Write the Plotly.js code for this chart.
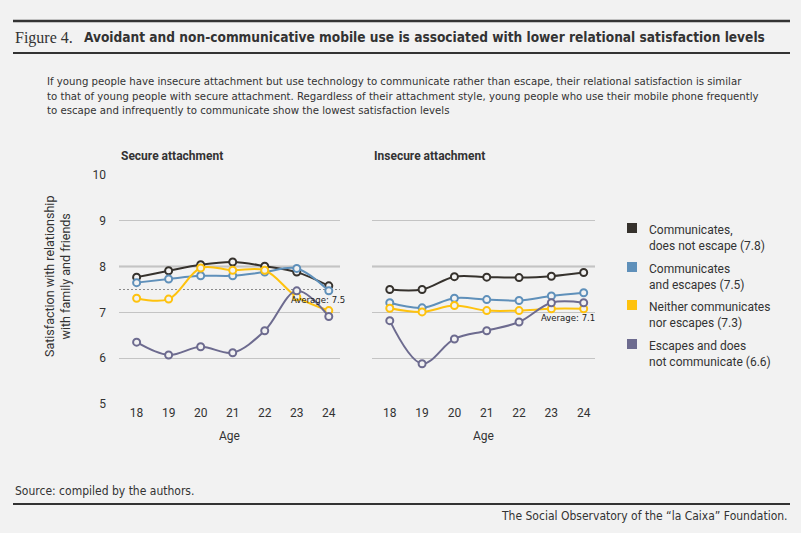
<!DOCTYPE html>
<html>
<head>
<meta charset="utf-8">
<script src="https://cdn.plot.ly/plotly-3.0.1.min.js"></script>
<style>
  html, body { margin: 0; padding: 0; background: #f2f2f2; }
  #chart { width: 801px; height: 533px; }
</style>
</head>
<body>
<div id="chart"></div>
<script>
const ages = [18, 19, 20, 21, 22, 23, 24];

const seriesNames = [
  'Communicates,<br>does not escape (7.8)',
  'Communicates<br>and escapes (7.5)',
  'Neither communicates<br>nor escapes (7.3)',
  'Escapes and does<br>not communicate (6.6)'
];
const seriesColors = ['#36322d', '#5f90ba', '#fec20e', '#6d6b8f'];

// secure attachment panel
const secureComm = [7.77, 7.91, 8.04, 8.10, 8.01, 7.88, 7.58];
const secureBoth = [7.65, 7.73, 7.80, 7.80, 7.88, 7.96, 7.47];
const secureNeither = [7.31, 7.29, 7.97, 7.92, 7.92, 7.34, 7.04];
const secureEscape = [6.35, 6.07, 6.25, 6.12, 6.60, 7.47, 6.91];

// insecure attachment panel
const insecureComm = [7.50, 7.50, 7.78, 7.77, 7.76, 7.79, 7.87];
const insecureBoth = [7.21, 7.10, 7.31, 7.28, 7.26, 7.36, 7.43];
const insecureNeither = [7.09, 7.01, 7.15, 7.04, 7.04, 7.08, 7.08];
const insecureEscape = [6.82, 5.88, 6.42, 6.60, 6.79, 7.21, 7.21];

const panelTitles = ['Secure attachment', 'Insecure attachment'];
const averages = [7.5, 7.1];
const averageLabels = ['Average: 7.5', 'Average: 7.1'];

const bg = '#f2f2f2';
const ink = '#333333';
const narrow = '"DejaVu Sans Condensed", sans-serif';
const sans = 'Roboto, "Liberation Sans", sans-serif';

// plot area spans 119..595 px horizontally and 175..404 px vertically
const L = 119, R = 595, T = 175, B = 404;
const px = x => (x - L) / (R - L);
const py = y => (B - y) / (B - T);

function line(x, y, color, xa, ya) {
  return {
    type: 'scatter', mode: 'lines+markers',
    x, y, xaxis: xa, yaxis: ya, showlegend: false, hoverinfo: 'x+y',
    line: { color, width: 2, shape: 'spline', smoothing: 1 },
    marker: { symbol: 'circle', size: 7, color: bg, line: { color, width: 2 } },
    cliponaxis: false
  };
}

const panels = [
  [secureComm, secureBoth, secureNeither, secureEscape],
  [insecureComm, insecureBoth, insecureNeither, insecureEscape]
];

const data = [];
panels.forEach((set, p) => {
  const xa = p === 0 ? 'x' : 'x2';
  const ya = p === 0 ? 'y' : 'y2';
  set.forEach((vals, i) => data.push(line(ages, vals, seriesColors[i], xa, ya)));
});

const xAxisBase = {
  range: [17.45, 24.35], tickvals: ages, showgrid: false, zeroline: false,
  showline: false, ticks: '', tickfont: { family: sans, size: 12, color: ink },
  title: { text: 'Age', font: { family: sans, size: 12, color: ink }, standoff: 12 }
};
const yAxisBase = {
  range: [5, 10], dtick: 1, showgrid: true, gridcolor: '#c4c4c4', gridwidth: 1,
  zeroline: false, showline: false, ticks: ''
};

const shapes = [
  { type: 'line', xref: 'paper', yref: 'paper', x0: px(13), x1: px(790), y0: py(21), y1: py(21), line: { color: ink, width: 2.5 } },
  { type: 'line', xref: 'paper', yref: 'paper', x0: px(13), x1: px(790), y0: py(53), y1: py(53), line: { color: ink, width: 2 } },
  { type: 'line', xref: 'paper', yref: 'paper', x0: px(13), x1: px(790), y0: py(504), y1: py(504), line: { color: ink, width: 2 } },
  { type: 'line', xref: 'x domain', yref: 'y', x0: 0, x1: 1, y0: 8, y1: 8, line: { color: '#bdbdbd', width: 2 }, layer: 'below' },
  { type: 'line', xref: 'x2 domain', yref: 'y2', x0: 0, x1: 1, y0: 8, y1: 8, line: { color: '#bdbdbd', width: 2 }, layer: 'below' },
  // average of the secure panel (the insecure one sits under its yellow line)
  { type: 'line', xref: 'x domain', yref: 'y', x0: 0, x1: 1, y0: averages[0], y1: averages[0], layer: 'below',
    line: { color: '#8a8a8a', width: 1, dash: '2px,2px' } }
];

const legendY = [228, 267, 305, 344];
seriesColors.forEach((c, i) => {
  shapes.push({ type: 'rect', xref: 'paper', yref: 'paper', x0: px(627), x1: px(637),
    y0: py(legendY[i] - 5), y1: py(legendY[i] + 5), fillcolor: c, line: { width: 0 } });
});

const annotations = [
  { text: 'Figure 4.', x: px(13), y: py(38), xanchor: 'left', yanchor: 'middle',
    font: { family: '"Liberation Serif", serif', size: 16, color: ink } },
  { text: '<b>Avoidant and non-communicative mobile use is associated with lower relational satisfaction levels</b>',
    x: px(82), y: py(37), xanchor: 'left', yanchor: 'middle',
    font: { family: narrow, size: 13.6, color: ink } },
  { text: 'If young people have insecure attachment but use technology to communicate rather than escape, their relational satisfaction is similar<br>' +
      'to that of young people with secure attachment. Regardless of their attachment style, young people who use their mobile phone frequently<br>' +
      'to escape and infrequently to communicate show the lowest satisfaction levels',
    x: px(45), y: py(73), xanchor: 'left', yanchor: 'top', align: 'left',
    font: { family: narrow, size: 11.3, color: ink } },
  { text: 'Source: compiled by the authors.', x: px(13), y: py(491), xanchor: 'left', yanchor: 'middle',
    font: { family: narrow, size: 12, color: ink } },
  { text: 'The Social Observatory of the \u201cla Caixa\u201d Foundation.', x: px(790), y: py(516), xanchor: 'right', yanchor: 'middle',
    font: { family: narrow, size: 12, color: ink } },
  { text: 'Satisfaction with relationship<br>with family and friends', x: px(57), y: py(276), textangle: -90,
    xanchor: 'center', yanchor: 'middle', font: { family: sans, size: 12.5, color: ink } },
  { text: '<b>' + panelTitles[0] + '</b>', x: px(119), y: py(156), xanchor: 'left', yanchor: 'middle',
    font: { family: sans, size: 12, color: ink } },
  { text: '<b>' + panelTitles[1] + '</b>', x: px(372), y: py(156), xanchor: 'left', yanchor: 'middle',
    font: { family: sans, size: 12, color: ink } },
  { text: averageLabels[0], xref: 'paper', yref: 'y', x: px(347), y: averages[0], xanchor: 'right', yanchor: 'top',
    yshift: -2, font: { family: narrow, size: 9.5, color: '#222' } },
  { text: averageLabels[1], xref: 'paper', yref: 'y2', x: px(597), y: averages[1], xanchor: 'right', yanchor: 'top',
    yshift: -2, font: { family: narrow, size: 9.5, color: '#222' } }
];
seriesNames.forEach((n, i) => {
  annotations.push({ text: n, x: px(647), y: py(legendY[i] - 7), xanchor: 'left', yanchor: 'top', align: 'left',
    font: { family: sans, size: 12, color: ink } });
});
annotations.forEach(a => {
  if (!a.xref) a.xref = 'paper';
  if (!a.yref) a.yref = 'paper';
  a.showarrow = false;
});

const layout = {
  width: 801, height: 533,
  paper_bgcolor: bg, plot_bgcolor: bg,
  margin: { l: L, r: 801 - R, t: T, b: 533 - B },
  showlegend: false,
  xaxis: Object.assign({}, xAxisBase, { domain: [0, px(340)], anchor: 'y' }),
  xaxis2: Object.assign({}, xAxisBase, { domain: [px(372), 1], anchor: 'y2' }),
  yaxis: Object.assign({}, yAxisBase, { domain: [0, 1], anchor: 'x',
    tickfont: { family: sans, size: 12, color: ink }, ticklabelstandoff: 12 }),
  yaxis2: Object.assign({}, yAxisBase, { domain: [0, 1], anchor: 'x2', matches: 'y', showticklabels: false }),
  shapes, annotations
};

Plotly.newPlot('chart', data, layout, { displayModeBar: false, staticPlot: true });
</script>
</body>
</html>
